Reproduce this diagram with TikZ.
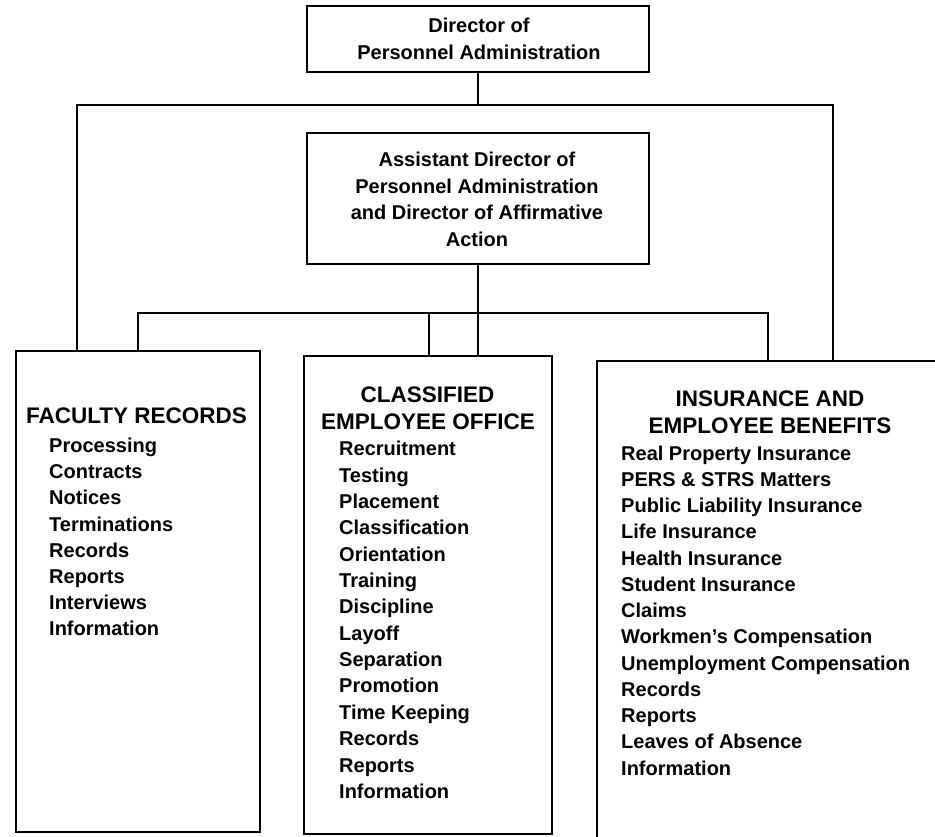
\documentclass[tikz,border=0pt]{standalone}
\usepackage{fontspec}
\setmainfont{Liberation Sans}
\begin{document}
\begin{tikzpicture}[x=1pt,y=-1pt,
  box/.style={draw, line width=2.8pt, rectangle, inner sep=0pt},
  txt/.style={inner sep=0pt, font=\bfseries\fontsize{20}{26}\selectfont},
  ttl/.style={inner sep=0pt, font=\bfseries\fontsize{22.5}{27}\selectfont},
  conn/.style={line width=2.5pt}]
\useasboundingbox (0,0) rectangle (935,837);
% boxes
\node[box, minimum width=342pt, minimum height=66pt] (dir) at (478,39) {};
\node[box, minimum width=342pt, minimum height=131pt] (asst) at (478,198.5) {};
\node[box, minimum width=244pt, minimum height=481pt] (fac) at (138,591.5) {};
\node[box, minimum width=248pt, minimum height=478pt] (cls) at (428,595) {};
\node[box, minimum width=340pt, minimum height=477pt] (ins) at (767,599.5) {};
% connectors
\coordinate (L) at (77,105);
\coordinate (R) at (833,105);
\coordinate (BL) at (138,313);
\coordinate (BR) at (768,313);
\coordinate (BM) at (429,313);
\draw[conn] (dir.south) -- (dir.south |- L);
\draw[conn] (fac.north -| L) -- (L) -- (R) -- (ins.north -| R);
\draw[conn] (fac.north -| BL) -- (BL) -- (BR) -- (ins.north -| BR);
\draw[conn] (BM) -- (cls.north -| BM);
\draw[conn] (asst.south) -- (cls.north -| asst.south);
% top texts
\node[txt, anchor=base] (d1) at (479,33) {Director of};
\node[txt, anchor=base] (d2) at (479,60) {Personnel Administration};
\node[txt, anchor=base] (a1) at (477,167) {Assistant Director of};
\node[txt, anchor=base] (a2) at (477,193.5) {Personnel Administration};
\node[txt, anchor=base] (a3) at (477,220) {and Director of Affirmative};
\node[txt, anchor=base] (a4) at (477,246.5) {Action};
% titles
\node[ttl, anchor=base] (t1) at (136.5,423) {FACULTY RECORDS};
\node[ttl, anchor=base] (t2a) at (427.5,402.7) {CLASSIFIED};
\node[ttl, anchor=base] (t2b) at (428,429.5) {EMPLOYEE OFFICE};
\node[ttl, anchor=base] (t3a) at (770,406) {INSURANCE AND};
\node[ttl, anchor=base] (t3b) at (770,433) {EMPLOYEE BENEFITS};
% items
\foreach \t [count=\i from 0] in {Processing,Contracts,Notices,Terminations,Records,Reports,Interviews,Information}
  \node[txt, anchor=base west] (fa\i) at (49,452.5+26.2*\i) {\t};
\foreach \t [count=\i from 0] in {Recruitment,Testing,Placement,Classification,Orientation,Training,Discipline,Layoff,Separation,Promotion,Time Keeping,Records,Reports,Information}
  \node[txt, anchor=base west] (cl\i) at (339,455.8+26.35*\i) {\t};
\foreach \t [count=\i from 0] in {Real Property Insurance,PERS \& STRS Matters,Public Liability Insurance,Life Insurance,Health Insurance,Student Insurance,Claims,Workmen's Compensation,Unemployment Compensation,Records,Reports,Leaves of Absence,Information}
  \node[txt, anchor=base west] (in\i) at (621,460+26.25*\i) {\t};
\end{tikzpicture}
\end{document}
